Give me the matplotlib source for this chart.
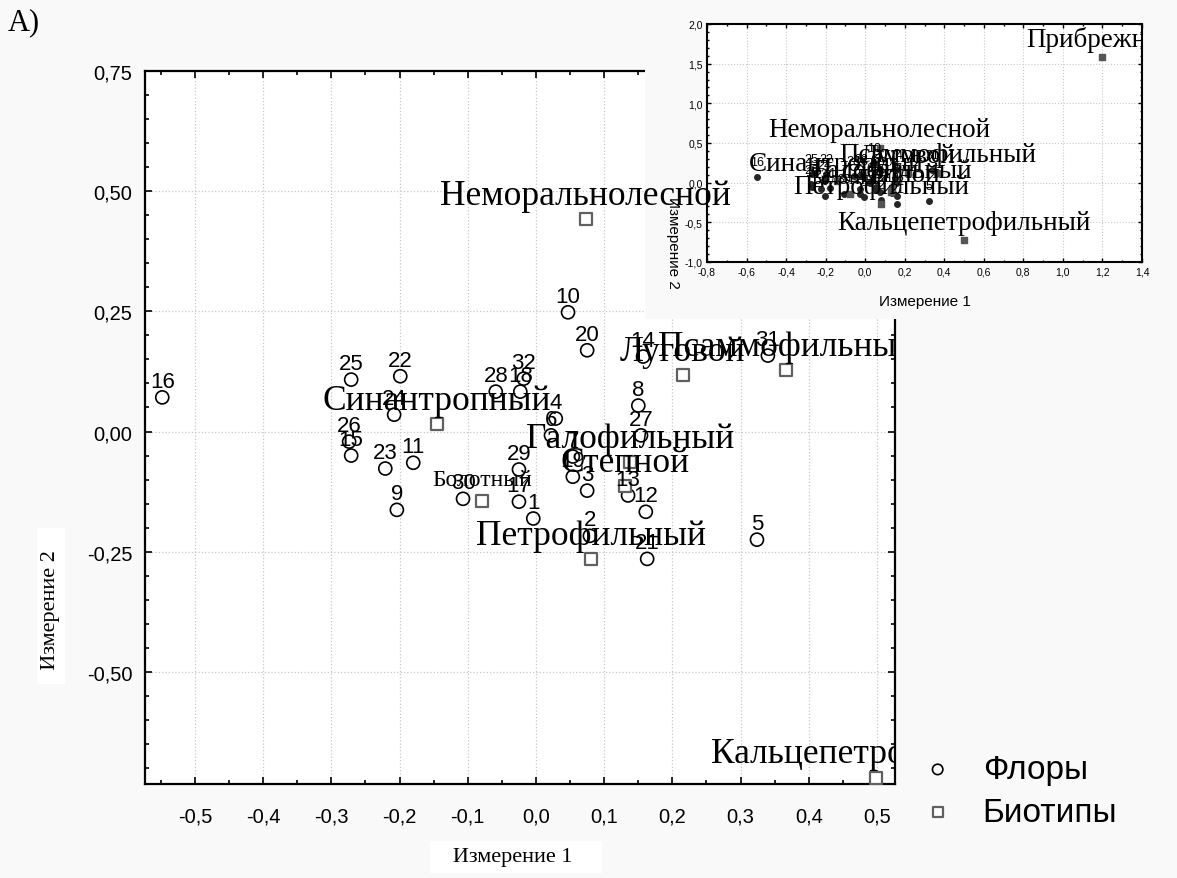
import matplotlib
matplotlib.use("Agg")
import matplotlib.pyplot as plt
from matplotlib.ticker import MultipleLocator
from matplotlib.transforms import offset_copy

# ---------------- data ----------------
flora_ids = [str(i) for i in range(1, 33)]
flora_x = [-0.004, 0.079, 0.075, 0.029, 0.324, 0.022, 0.054, 0.150, -0.204, 0.047,
           -0.180, 0.161, 0.135, 0.157, -0.271, -0.548, -0.025, -0.023, 0.054, 0.075,
           0.163, -0.199, -0.221, -0.208, -0.271, -0.274, 0.154, -0.059, -0.025, -0.107,
           0.340, -0.018]
flora_y = [-0.181, -0.217, -0.123, 0.027, -0.225, -0.008, -0.052, 0.054, -0.163, 0.248,
           -0.065, -0.167, -0.133, 0.156, -0.050, 0.071, -0.146, 0.083, -0.094, 0.169,
           -0.265, 0.115, -0.077, 0.035, 0.108, -0.021, -0.008, 0.083, -0.079, -0.140,
           0.158, 0.110]

bio_names = ["Неморальнолесной", "Синантропный", "Болотный", "Петрофильный",
             "Галофильный", "Степной", "Луговой", "Псаммофильный",
             "Кальцепетрофильный", "Прибрежный"]
bio_x = [0.073, -0.145, -0.079, 0.081, 0.138, 0.130, 0.215, 0.367, 0.499, 1.200]
bio_y = [0.442, 0.015, -0.144, -0.265, -0.063, -0.113, 0.117, 0.127, -0.720, 1.580]

main_xticks = [-0.5, -0.4, -0.3, -0.2, -0.1, 0.0, 0.1, 0.2, 0.3, 0.4, 0.5]
main_xticklabels = ["-0,5", "-0,4", "-0,3", "-0,2", "-0,1", "0,0", "0,1", "0,2", "0,3", "0,4", "0,5"]
main_yticks = [0.75, 0.50, 0.25, 0.00, -0.25, -0.50]
main_yticklabels = ["0,75", "0,50", "0,25", "0,00", "-0,25", "-0,50"]

ins_xticks = [-0.8, -0.6, -0.4, -0.2, 0.0, 0.2, 0.4, 0.6, 0.8, 1.0, 1.2, 1.4]
ins_xticklabels = ["-0,8", "-0,6", "-0,4", "-0,2", "0,0", "0,2", "0,4", "0,6", "0,8", "1,0", "1,2", "1,4"]
ins_yticks = [-1.0, -0.5, 0.0, 0.5, 1.0, 1.5, 2.0]
ins_yticklabels = ["-1,0", "-0,5", "0,0", "0,5", "1,0", "1,5", "2,0"]

# ---------------- style ----------------
BG = "#f9f9f9"
SERIF = "Liberation Serif"
SANS = "Liberation Sans"
small_labels = {"Болотный"}

fig = plt.figure(figsize=(11.77, 8.79), dpi=100, facecolor=BG)

main_pos = [145 / 1177, 1 - 785 / 879, 750 / 1177, 713 / 879]
main = fig.add_axes(main_pos, zorder=0)
main.set_facecolor("white")
main.set_xlim(-0.5733, 0.5264)
main.set_ylim(-0.7333, 0.75)

sc1 = main.scatter(flora_x, flora_y, s=88, facecolors="none", edgecolors="black",
                   linewidths=1.2, zorder=3, label="Флоры")
sc2 = main.scatter(bio_x, bio_y, marker="s", s=74, facecolors="white", edgecolors="#606060",
                   linewidths=1.6, zorder=3, label="Биотипы")

main.set_xticks(main_xticks)
main.set_xticklabels(main_xticklabels, fontfamily=SANS, fontsize=14.5)
main.set_yticks(main_yticks)
main.set_yticklabels(main_yticklabels, fontfamily=SANS, fontsize=14.5)
main.xaxis.set_minor_locator(MultipleLocator(0.05))
main.yaxis.set_minor_locator(MultipleLocator(0.05))
main.tick_params(which="both", direction="in", top=True, right=True, width=1.2)
main.tick_params(which="major", length=5)
main.tick_params(which="minor", length=3)
main.tick_params(axis="x", which="major", pad=16)
main.tick_params(axis="y", which="major", pad=9)
main.grid(True, which="major", linestyle=":", color="#c8c8c8", linewidth=0.9)
for sp in main.spines.values():
    sp.set_linewidth(1.6)

# ---------------- inset panel ----------------
panel = fig.add_axes([645 / 1177, 1 - 320 / 879, 532 / 1177, 312 / 879], zorder=1)
panel.set_facecolor(BG)
panel.set_xticks([])
panel.set_yticks([])
for sp in panel.spines.values():
    sp.set_visible(False)

ins = fig.add_axes([707 / 1177, 1 - 263 / 879, 435 / 1177, 238 / 879], zorder=2)
ins.set_facecolor("white")
ins.set_xlim(-0.8, 1.4)
ins.set_ylim(-1.0, 2.0)
ins.scatter(flora_x, flora_y, s=16, color="#262626", zorder=3)
ins.scatter(bio_x, bio_y, marker="s", s=16, color="#555555", zorder=3)
ins.set_xticks(ins_xticks)
ins.set_xticklabels(ins_xticklabels, fontfamily=SANS, fontsize=7.5)
ins.set_yticks(ins_yticks)
ins.set_yticklabels(ins_yticklabels, fontfamily=SANS, fontsize=7.5)
ins.xaxis.set_minor_locator(MultipleLocator(0.1))
ins.yaxis.set_minor_locator(MultipleLocator(0.1))
ins.tick_params(which="both", direction="in", top=True, right=True, width=1.0)
ins.tick_params(which="major", length=3, pad=3)
ins.tick_params(which="minor", length=1.5)
ins.grid(True, which="major", linestyle=":", color="#c8c8c8", linewidth=0.8)
for sp in ins.spines.values():
    sp.set_linewidth(1.5)

tr_num_i = offset_copy(ins.transData, fig=fig, y=8.5, units="points")
tr_bio_i = offset_copy(ins.transData, fig=fig, y=8, units="points")
for lab, x, y in zip(flora_ids, flora_x, flora_y):
    ins.text(x, y, lab, transform=tr_num_i, ha="center", va="baseline",
             fontfamily=SANS, fontsize=9, clip_on=True, zorder=4)
for lab, x, y in zip(bio_names, bio_x, bio_y):
    ins.text(x, y, lab, transform=tr_bio_i, ha="center", va="baseline",
             fontfamily=SERIF, fontsize=13 if lab in small_labels else 19.5,
             clip_on=True, zorder=4)
fig.text(925 / 1177, 1 - 302 / 879, "Измерение 1", ha="center", va="center",
         fontfamily=SANS, fontsize=11)
fig.text(673 / 1177, 1 - 243 / 879, "Измерение 2", ha="center", va="center",
         rotation=270, fontfamily=SANS, fontsize=11)

# ---------------- text overlay for main labels ----------------
ov = fig.add_axes(main_pos, zorder=3)
ov.set_xlim(main.get_xlim())
ov.set_ylim(main.get_ylim())
ov.set_xticks([])
ov.set_yticks([])
ov.patch.set_visible(False)
for sp in ov.spines.values():
    sp.set_visible(False)

tr_num = offset_copy(ov.transData, fig=fig, y=7.5, units="points")
tr_bio = offset_copy(ov.transData, fig=fig, y=11, units="points")
for lab, x, y in zip(flora_ids, flora_x, flora_y):
    ov.text(x, y, lab, transform=tr_num, ha="center", va="baseline",
            fontfamily=SANS, fontsize=16, clip_on=True)
for lab, x, y in zip(bio_names, bio_x, bio_y):
    ov.text(x, y, lab, transform=tr_bio, ha="center", va="baseline",
            fontfamily=SERIF, fontsize=17 if lab in small_labels else 25.5,
            clip_on=True)

# ---------------- labels, legend ----------------
fig.text(8 / 1177, 1 - 23 / 879, "A)", ha="left", va="center", fontfamily=SERIF, fontsize=22)
fig.text(516 / 1177, 1 - 858 / 879, "   Измерение 1    ", ha="center", va="center",
         fontfamily=SERIF, fontsize=16,
         bbox=dict(facecolor="white", edgecolor="none", pad=5))
fig.text(51 / 1177, 1 - 607 / 879, "  Измерение 2   ", ha="center", va="center",
         rotation=90, fontfamily=SERIF, fontsize=16,
         bbox=dict(facecolor="white", edgecolor="none", pad=3))

fig.legend(handles=[sc1, sc2], labels=["Флоры", "Биотипы"],
           loc="center left", bbox_to_anchor=(891 / 1177, 1 - 792 / 879),
           frameon=False, prop={"family": SANS, "size": 24},
           markerscale=0.8, handletextpad=0.85, labelspacing=0.35, handlelength=1.0)

fig.savefig("out.png", dpi=100, facecolor=BG)
